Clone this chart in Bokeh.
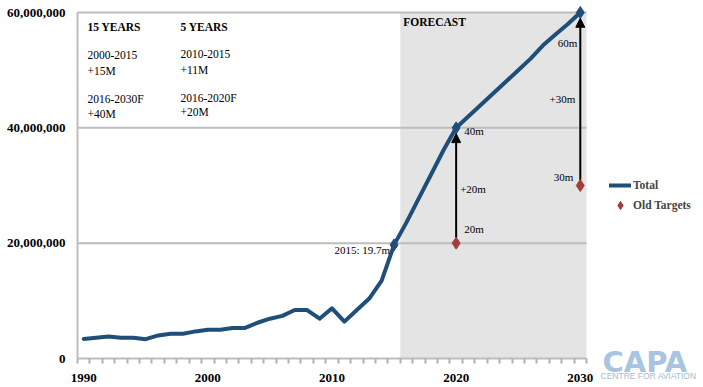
from bokeh.plotting import figure
from bokeh.models import (BoxAnnotation, Label, Arrow, NormalHead, FixedTicker,
                          NumeralTickFormatter, Range1d, Legend, LegendItem,
                          LinearAxis)
from bokeh.embed import file_html
from bokeh.resources import INLINE

# ---------------- data ----------------
years = list(range(1990, 2031))
total_m = [3.4, 3.6, 3.8, 3.6, 3.6, 3.35, 4.0, 4.3, 4.3, 4.7,
           5.0, 5.0, 5.3, 5.3, 6.2, 6.9, 7.4, 8.4, 8.4, 6.9,
           8.7, 6.4, 8.4, 10.4, 13.5, 19.7, 23.6, 27.8, 32.0, 36.2,
           40.0, 42.0, 44.0, 46.0, 48.0, 50.0, 52.0, 54.3, 56.2, 58.0, 60.0]
total = [v * 1e6 for v in total_m]
milestone_years = [2015, 2020, 2030]
milestone_vals = [19.7e6, 40e6, 60e6]
target_years = [2020, 2030]
target_vals = [20e6, 30e6]
forecast_start = 2015.5
x_tick_years = [1990, 2000, 2010, 2020, 2030]
y_ticks = [0, 20e6, 40e6, 60e6]

SERIF = "Liberation Serif"
LINE_COL = "#1f4e79"
TGT_COL = "#a23d3d"
GRID_COL = "#bdbdbd"

X0, X1 = 1989.5, 2030.5          # plotted category span
Y0, Y1 = 0, 60e6
W, H = 703, 387
# chart-area placement on the canvas (pixels)
CL, CR, CT, CB = 77, 586, 12, 358
xpp = (X1 - X0) / (CR - CL)      # data units per pixel
ypp = (Y1 - Y0) / (CB - CT)

p = figure(width=W, height=H, output_backend="svg", toolbar_location=None,
           min_border_left=0, min_border_right=0, min_border_top=0,
           min_border_bottom=0,
           x_range=Range1d(X0 - CL * xpp, X1 + (W - CR) * xpp),
           y_range=Range1d(Y0 - (H - CB) * ypp, Y1 + CT * ypp))
p.outline_line_color = None
p.background_fill_color = "white"

# forecast shading
shade = BoxAnnotation(left=forecast_start, right=X1, bottom=Y0, top=Y1,
                      fill_color="#e4e4e4", fill_alpha=1.0, line_color=None,
                      level="image")
p.add_layout(shade)

# category-boundary tick marks (separate axis, no labels, no line)
tick_axis = LinearAxis(fixed_location=Y0, bounds=(X0, X1),
                       ticker=FixedTicker(ticks=[X0 + i for i in range(42)]),
                       major_tick_line_color="#b0b0b0", major_tick_line_width=2,
                       major_tick_out=5, major_tick_in=0,
                       minor_tick_line_color=None, axis_line_color=None,
                       major_label_text_color=None,
                       major_label_text_font_size="1px")
p.add_layout(tick_axis, "below")

# main axes (drawn at fixed data locations)
p.xaxis[0].fixed_location = Y0
p.xaxis[0].bounds = (X0, X1)
p.xaxis[0].ticker = FixedTicker(ticks=x_tick_years)
p.xaxis[0].major_tick_line_color = None
p.xaxis[0].major_tick_out = 5
p.xaxis[0].major_tick_in = 0
p.xaxis[0].minor_tick_line_color = None
p.xaxis[0].major_label_standoff = 10
p.xaxis[0].axis_line_color = GRID_COL
p.xaxis[0].axis_line_width = 2
p.xaxis[0].major_label_text_font = SERIF
p.xaxis[0].major_label_text_font_style = "bold"
p.xaxis[0].major_label_text_font_size = "13px"
p.xaxis[0].major_label_text_color = "black"

p.yaxis.fixed_location = X0
p.yaxis.bounds = (Y0, Y1)
p.yaxis.ticker = FixedTicker(ticks=y_ticks)
p.yaxis.formatter = NumeralTickFormatter(format="0,0")
p.yaxis.major_tick_line_color = None
p.yaxis.major_tick_out = 0
p.yaxis.major_tick_in = 0
p.yaxis.minor_tick_line_color = None
p.yaxis.major_label_standoff = 12
p.yaxis.axis_line_color = GRID_COL
p.yaxis.axis_line_width = 2
p.yaxis.major_label_text_font = SERIF
p.yaxis.major_label_text_font_style = "bold"
p.yaxis.major_label_text_font_size = "13px"
p.yaxis.major_label_text_color = "black"

p.xgrid.grid_line_color = None
p.ygrid.grid_line_color = None
# horizontal grid lines limited to the chart span
gy = y_ticks[1:]
p.segment(x0=[X0] * len(gy), y0=gy, x1=[X1] * len(gy), y1=gy,
          line_color=GRID_COL, line_width=2, level="underlay")

# series
r_total = p.line(years, total, line_color=LINE_COL, line_width=4,
                 line_join="round", line_cap="round")
p.scatter(milestone_years, milestone_vals, marker="diamond", size=12,
          color=LINE_COL)
r_tgt = p.scatter(target_years, target_vals, marker="diamond", size=12,
                  color=TGT_COL)

# arrows from old targets up to new forecast
for yr, tv, mv in zip(target_years, target_vals, milestone_vals[1:]):
    p.add_layout(Arrow(end=NormalHead(size=9, fill_color="black",
                                      line_color="black"),
                       x_start=yr, y_start=tv + 1.0e6, x_end=yr, y_end=mv - 1.0e6,
                       line_color="black", line_width=2))

def lab(text, x, y, xo=0, yo=0, align="left", bold=False, units="data",
        size="11px", font=SERIF, color="black", baseline="middle"):
    p.add_layout(Label(x=x, y=y, x_offset=xo, y_offset=yo, text=text,
                       x_units=units, y_units=units,
                       text_font=font, text_font_size=size,
                       text_font_style="bold" if bold else "normal",
                       text_align=align, text_baseline=baseline,
                       text_color=color))

# point annotations
lab("2015: 19.7m", 2015, 19.7e6, -4, -5, align="right")
lab("40m", 2020, 40e6, 8, -3)
lab("+20m", 2020, 30e6, 4, -3)
lab("20m", 2020, 20e6, 8, 14)
lab("30m", 2030, 30e6, -7, 9, align="right")
lab("+30m", 2030, 45e6, -5, 0, align="right")
lab("60m", 2030, 60e6, -3, -30, align="right")
lab("FORECAST", forecast_start, 60e6, 3, -9, bold=True, size="11.5px")

# screen positions (frame = whole canvas, origin bottom-left)
def sy(py):
    return H - py

# top-left summary block
block = [("15 YEARS", "5 YEARS", 26, 26, True),
         ("2000-2015", "2010-2015", 54, 53, False),
         ("+15M", "+11M", 70, 69, False),
         ("2016-2030F", "2016-2020F", 98, 97, False),
         ("+40M", "+20M", 113, 111, False)]
for a, b, ya, yb, bold in block:
    lab(a, 87, sy(ya), units="screen", bold=bold, size="11.5px")
    lab(b, 180, sy(yb), units="screen", bold=bold, size="11.5px")

# legend
legend = Legend(items=[LegendItem(label="Total", renderers=[r_total]),
                       LegendItem(label="Old Targets", renderers=[r_tgt])],
                location=(609, sy(215)), margin=0, padding=0, spacing=0,
                glyph_width=22, glyph_height=20, label_height=20,
                label_standoff=2, border_line_color=None,
                background_fill_alpha=0,
                label_text_font=SERIF, label_text_font_style="bold",
                label_text_font_size="11.5px")
p.add_layout(legend)

# CAPA logo
lab("CAPA", 602, sy(361), units="screen", size="29px", font="DejaVu Sans",
    bold=True, color="#a9c4e0", baseline="alphabetic")
lab("CENTRE FOR AVIATION", 600, sy(375.5), units="screen", size="8.5px",
    font="Liberation Sans", color="#a3bad2", baseline="alphabetic")

open("out.html", "w").write(file_html(p, INLINE))
